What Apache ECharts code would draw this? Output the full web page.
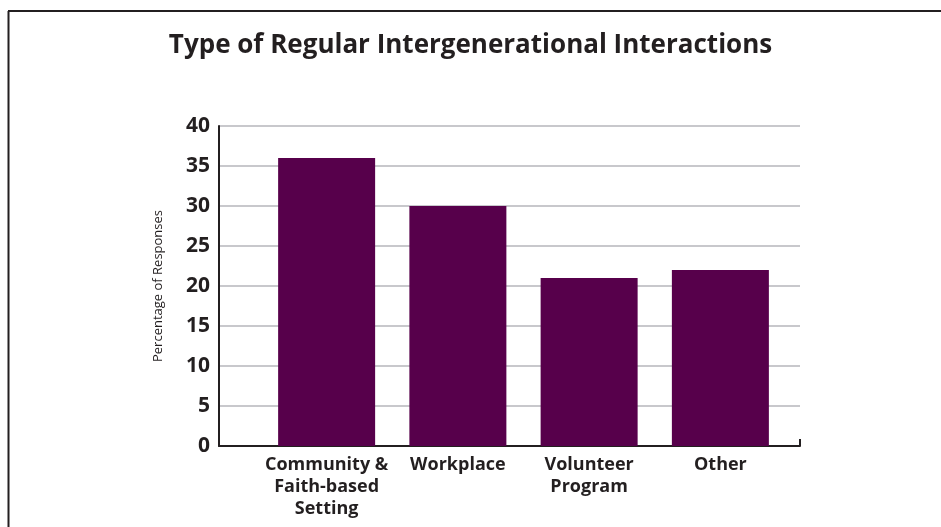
<!DOCTYPE html>
<html>
<head>
<meta charset="utf-8">
<script src="https://cdn.jsdelivr.net/npm/echarts@6/dist/echarts.min.js"></script>
<style>
  html, body { margin: 0; padding: 0; background: #fff; }
  #container { width: 941px; height: 527px; }
</style>
</head>
<body>
<div id="container"></div>
<script type="text/javascript">
    // data
    var categories = ['Community &\nFaith-based\nSetting', 'Workplace', 'Volunteer\nProgram', 'Other'];
    var responses = [36, 30, 21, 22];
    var yTicks = [0, 5, 10, 15, 20, 25, 30, 35, 40];

    var ink = '#231f20';
    var font = '"Open Sans", "Noto Sans", sans-serif';

    var dom = document.getElementById('container');
    var myChart = echarts.init(dom);

    var option = {
        backgroundColor: '#fff',
        animation: false,
        title: {
            text: 'Type of Regular Intergenerational Interactions',
            left: 'center',
            top: 28,
            textStyle: { fontFamily: font, fontWeight: 'bold', fontSize: 26, color: ink }
        },
        grid: [
            // frame grid: axis lines + gridlines
            { left: 219, right: 141, top: 126, bottom: 81 },
            // bar grid: bars sit a bit right of the frame
            { left: 261, right: 155, top: 126, bottom: 81 }
        ],
        xAxis: [
            {
                gridIndex: 0, type: 'value', min: 0, max: 1, interval: 1,
                axisLine: { show: true, lineStyle: { color: ink, width: 2 } },
                axisTick: { show: true, inside: true, length: 7, lineStyle: { color: ink, width: 2 } },
                axisLabel: { show: false },
                splitLine: { show: false }
            },
            {
                gridIndex: 1, type: 'category', data: categories,
                axisLine: { show: false },
                axisTick: { show: false },
                axisLabel: {
                    interval: 0, margin: 8,
                    fontFamily: font, fontWeight: 'bold', fontSize: 18, lineHeight: 22, color: ink
                }
            }
        ],
        yAxis: [
            {
                gridIndex: 0, type: 'value', min: yTicks[0], max: yTicks[yTicks.length - 1], interval: 5,
                name: 'Percentage of Responses',
                nameLocation: 'middle',
                nameGap: 54,
                nameRotate: 90,
                nameTextStyle: { fontFamily: font, fontSize: 13, color: ink },
                axisLine: { show: true, lineStyle: { color: ink, width: 2 } },
                axisTick: { show: false },
                axisLabel: { margin: 9, fontFamily: font, fontWeight: 'bold', fontSize: 21, color: ink },
                splitLine: { show: true, lineStyle: { color: '#c8c8cc', width: 2 } }
            },
            {
                gridIndex: 1, type: 'value', min: yTicks[0], max: yTicks[yTicks.length - 1],
                show: false
            }
        ],
        series: [
            {
                type: 'bar',
                xAxisIndex: 1,
                yAxisIndex: 1,
                data: responses,
                barWidth: 97,
                itemStyle: { color: '#57004b' }
            }
        ],
        graphic: [
            { type: 'line', shape: { x1: 8, y1: 11, x2: 941, y2: 11 }, style: { stroke: ink, lineWidth: 2 } },
            { type: 'line', shape: { x1: 8.5, y1: 11, x2: 8.5, y2: 527 }, style: { stroke: ink, lineWidth: 2 } }
        ]
    };

    if (option && typeof option === 'object') {
        myChart.setOption(option);
    }
</script>
</body>
</html>
